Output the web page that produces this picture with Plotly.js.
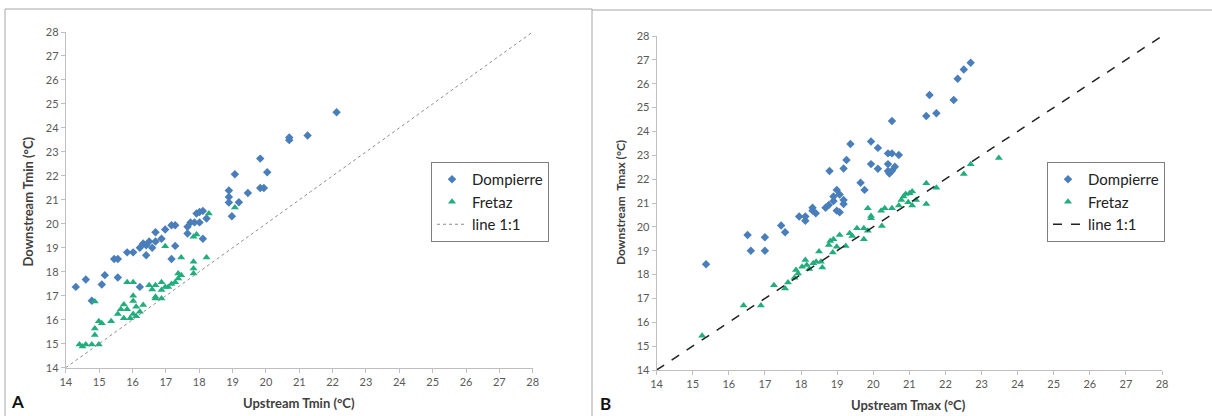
<!DOCTYPE html>
<html><head><meta charset="utf-8">
<script src="https://cdn.plot.ly/plotly-3.0.1.min.js"></script>
<style>html,body{margin:0;padding:0;background:#fff}#chart{width:1212px;height:416px}</style>
</head><body><div id="chart"></div>
<script>
// Panel A: Tmin
const domATminX = [14.3,14.6,14.78,15.08,15.17,15.45,15.56,15.56,15.84,16.02,16.22,16.22,16.32,16.41,16.41,16.5,16.59,16.69,16.69,16.87,16.98,17.17,17.28,17.17,17.28,17.65,17.65,17.74,17.86,17.92,18.01,18.01,18.11,18.11,18.22,18.89,18.89,18.89,18.98,19.07,19.19,19.46,19.83,19.83,19.94,20.04,20.7,20.7,21.25,22.12];
const domATminY = [17.37,17.68,16.79,17.47,17.86,18.53,18.53,17.76,18.81,18.81,17.37,19.0,19.18,18.69,19.11,19.26,19.0,19.65,19.26,19.38,19.76,19.94,19.94,18.53,19.08,19.88,19.6,20.06,20.06,20.43,20.06,20.49,20.54,19.38,20.22,21.39,21.12,20.89,20.32,22.07,20.9,21.29,22.72,21.49,21.49,22.15,23.6,23.49,23.68,24.65];
const freATminX = [14.41,14.5,14.6,14.78,14.99,14.87,14.87,14.87,14.99,15.08,15.36,15.56,15.65,15.74,15.74,15.84,15.93,15.84,16.02,16.02,16.02,16.02,16.11,16.11,16.22,16.32,16.5,16.59,16.69,16.69,16.69,16.87,16.87,16.87,16.98,17.07,16.98,17.17,17.28,17.37,17.37,17.46,17.46,17.83,17.83,17.83,17.83,17.92,18.22,18.29,19.07];
const freATminY = [14.97,14.88,14.97,14.97,14.97,15.36,15.64,16.76,15.94,15.85,15.94,16.24,16.44,16.64,16.06,16.44,16.06,17.56,17.56,17.0,16.78,16.24,16.15,16.54,16.33,16.61,17.44,17.26,17.44,16.96,16.89,17.56,17.24,16.89,17.37,17.37,19.07,17.49,17.56,17.72,17.93,17.86,18.6,17.93,18.14,18.42,19.46,19.56,18.6,20.43,20.68];
// Panel B: Tmax
const domBTmaxX = [15.37,16.52,16.61,17.0,17.0,17.45,17.56,17.95,18.12,18.12,18.32,18.32,18.41,18.68,18.77,18.79,18.9,18.9,18.99,18.99,19.07,19.07,19.18,19.18,19.18,19.26,19.37,19.65,19.76,19.94,19.94,20.13,20.13,20.41,20.41,20.41,20.45,20.52,20.52,20.52,20.6,20.71,21.47,21.75,21.56,22.23,22.34,22.51,22.7];
const domBTmaxY = [18.43,19.66,19.0,19.56,19.0,20.06,19.77,20.43,20.43,20.26,20.8,20.68,20.57,20.8,20.92,22.34,21.08,21.27,21.55,20.68,21.36,20.61,21.13,20.96,22.45,22.8,23.47,21.85,21.55,23.58,22.63,23.31,22.44,23.08,22.63,22.34,22.24,23.08,22.35,24.44,22.52,23.01,24.65,24.76,25.53,25.32,26.21,26.6,26.88];
const freBTmaxX = [15.26,16.41,16.89,17.25,17.56,17.64,17.82,17.86,17.92,18.03,18.12,18.16,18.23,18.34,18.42,18.5,18.55,18.59,18.77,18.81,18.88,18.9,18.99,19.07,19.24,19.35,19.42,19.55,19.74,19.74,19.85,19.85,19.94,19.94,20.24,20.22,20.32,20.52,20.71,20.78,20.84,20.9,20.97,21.01,21.08,21.08,21.19,21.47,21.47,21.75,22.51,22.7,23.48];
const freBTmaxY = [15.44,16.7,16.7,17.55,17.42,17.67,17.87,18.19,18.05,18.33,18.61,18.4,18.23,18.47,18.54,18.97,18.54,18.3,19.24,19.41,18.93,19.48,19.17,19.66,19.2,19.73,19.62,19.94,19.94,19.48,19.84,20.78,20.46,20.36,20.04,20.68,20.78,20.78,20.9,21.13,21.27,21.38,21.03,21.41,21.48,20.9,21.13,21.83,20.96,21.64,22.22,22.62,22.89];
const lineX = [14, 28];
const lineY = [14, 28];
const tickVals = [14,15,16,17,18,19,20,21,22,23,24,25,26,27,28];
const seriesNames = ['Dompierre', 'Fretaz', 'line 1:1'];

const BLUE = '#4A7EBB', GREEN = '#22AD7C';
const FONT = 'Lato, "Open Sans", sans-serif';

const traces = [
  {x: domATminX, y: domATminY, type:'scatter', mode:'markers', name: seriesNames[0], xaxis:'x', yaxis:'y', legend:'legend',
   marker:{symbol:'diamond', size:6.5, color:BLUE}},
  {x: freATminX, y: freATminY, type:'scatter', mode:'markers', name: seriesNames[1], xaxis:'x', yaxis:'y', legend:'legend',
   marker:{symbol:'triangle-up', size:7, color:GREEN}},
  {x: lineX, y: lineY, type:'scatter', mode:'lines', name: seriesNames[2], xaxis:'x', yaxis:'y', legend:'legend',
   line:{color:'#8C8C8C', width:1, dash:'dot'}},
  {x: domBTmaxX, y: domBTmaxY, type:'scatter', mode:'markers', name: seriesNames[0], xaxis:'x2', yaxis:'y2', legend:'legend2',
   marker:{symbol:'diamond', size:6.5, color:BLUE}},
  {x: freBTmaxX, y: freBTmaxY, type:'scatter', mode:'markers', name: seriesNames[1], xaxis:'x2', yaxis:'y2', legend:'legend2',
   marker:{symbol:'triangle-up', size:7, color:GREEN}},
  {x: lineX, y: lineY, type:'scatter', mode:'lines', name: seriesNames[2], xaxis:'x2', yaxis:'y2', legend:'legend2',
   line:{color:'#222222', width:1.5, dash:'dash'}}
];

const W = 1212, H = 416;
const px = v => v / W, py = v => 1 - v / H;

const axisBase = {
  range:[14,28], tickmode:'array', tickvals: tickVals, showgrid:false, zeroline:false,
  showline:true, linecolor:'#BFBFBF', linewidth:1, ticks:'outside', tickcolor:'#BFBFBF', ticklen:4,
  tickfont:{family:FONT, size:11, color:'#595959'}, fixedrange:true
};

const legendBase = {
  bgcolor:'#fff', bordercolor:'#7F7F7F', borderwidth:1, xanchor:'left', yanchor:'top',
  font:{family:FONT, size:15, color:'#222'}, itemwidth:30, tracegroupgap:0
};

const titleFont = {family:FONT, size:13, color:'#404040'};
const ann = (text, x, y, extra) => Object.assign({text, xref:'paper', yref:'paper', x:px(x), y:py(y),
  xanchor:'center', yanchor:'middle', showarrow:false, font:titleFont}, extra || {});

const layout = {
  width:W, height:H, margin:{l:0,r:0,t:0,b:0}, paper_bgcolor:'#fff', plot_bgcolor:'#fff',
  showlegend:true,
  xaxis: Object.assign({}, axisBase, {domain:[px(65.8), px(532.7)], anchor:'y'}),
  yaxis: Object.assign({}, axisBase, {domain:[py(367.7), py(32)], anchor:'x'}),
  xaxis2: Object.assign({}, axisBase, {domain:[px(656.6), px(1162)], anchor:'y2'}),
  yaxis2: Object.assign({}, axisBase, {domain:[py(370), py(36)], anchor:'x2'}),
  legend: Object.assign({}, legendBase, {x: px(431), y: py(162)}),
  legend2: Object.assign({}, legendBase, {x: px(1047), y: py(162)}),
  annotations:[
    ann('<b>Upstream Tmin (°C)</b>', 299, 403),
    ann('<b>Downstream Tmin (°C)</b>', 27.5, 202, {textangle:-90}),
    ann('<b>Upstream Tmax (°C)</b>', 908, 405),
    ann('<b>Downstream  Tmax (°C)</b>', 621, 203, {textangle:-90, font:{family:FONT, size:12, color:'#404040'}}),
    ann('<b>A</b>', 17, 401, {font:{family:FONT, size:17, color:'#111'}}),
    ann('<b>B</b>', 605, 403, {font:{family:FONT, size:17, color:'#111'}})
  ],
  shapes:[
    {type:'line', xref:'paper', yref:'paper', x0:px(5), x1:px(5), y0:0, y1:py(9), line:{color:'#A6A6A6', width:1}},
    {type:'line', xref:'paper', yref:'paper', x0:px(5), x1:px(592), y0:py(9), y1:py(9), line:{color:'#A6A6A6', width:1}},
    {type:'line', xref:'paper', yref:'paper', x0:px(592), x1:px(592), y0:0, y1:py(9), line:{color:'#A6A6A6', width:1}},
    {type:'line', xref:'paper', yref:'paper', x0:px(592), x1:1, y0:py(10), y1:py(10), line:{color:'#A6A6A6', width:1}}
  ]
};

Plotly.newPlot('chart', traces, layout, {displayModeBar:false, staticPlot:true});
</script></body></html>
